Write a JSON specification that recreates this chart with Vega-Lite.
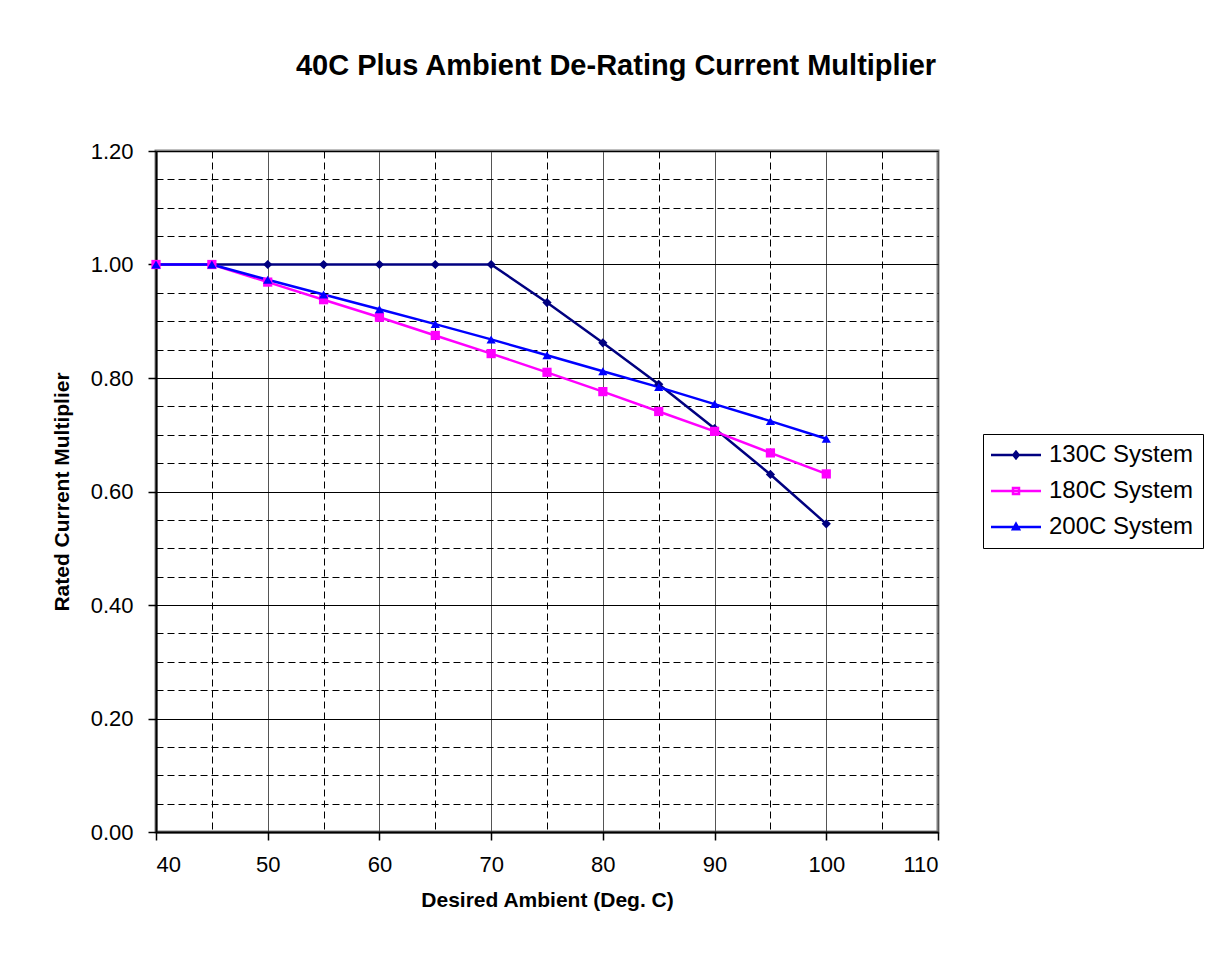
{
  "$schema": "https://vega.github.io/schema/vega-lite/v6.json",
  "width": 782,
  "height": 681,
  "autosize": "none",
  "padding": {"left": 156, "top": 151, "right": 282, "bottom": 132},
  "background": "white",
  "title": {
    "text": "40C Plus Ambient De-Rating Current Multiplier",
    "font": "Liberation Sans",
    "fontSize": 29,
    "fontWeight": "bold",
    "color": "black",
    "anchor": "middle",
    "baseline": "alphabetic",
    "dx": 69,
    "offset": 36
  },
  "config": {
    "view": {"stroke": "#808080", "strokeWidth": 3},
    "font": "Liberation Sans",
    "legend": {
      "orient": "none",
      "legendX": 827,
      "legendY": 283,
      "strokeColor": "black",
      "fillColor": "white",
      "padding": 9,
      "labelFont": "Liberation Sans",
      "labelFontSize": 24,
      "labelColor": "black",
      "symbolSize": 400,
      "symbolStrokeWidth": 2.5,
      "symbolOffset": 12,
      "labelOffset": 21,
      "rowPadding": 12,
      "symbolOpacity": 1
    }
  },
  "data": {
    "values": [
      {"x": 40, "y": 1.0, "series": "130C System"},
      {"x": 45, "y": 1.0, "series": "130C System"},
      {"x": 50, "y": 1.0, "series": "130C System"},
      {"x": 55, "y": 1.0, "series": "130C System"},
      {"x": 60, "y": 1.0, "series": "130C System"},
      {"x": 65, "y": 1.0, "series": "130C System"},
      {"x": 70, "y": 1.0, "series": "130C System"},
      {"x": 75, "y": 0.933, "series": "130C System"},
      {"x": 80, "y": 0.862, "series": "130C System"},
      {"x": 85, "y": 0.789, "series": "130C System"},
      {"x": 90, "y": 0.711, "series": "130C System"},
      {"x": 95, "y": 0.630, "series": "130C System"},
      {"x": 100, "y": 0.543, "series": "130C System"},
      {"x": 40, "y": 1.0, "series": "180C System"},
      {"x": 45, "y": 1.0, "series": "180C System"},
      {"x": 50, "y": 0.969, "series": "180C System"},
      {"x": 55, "y": 0.938, "series": "180C System"},
      {"x": 60, "y": 0.907, "series": "180C System"},
      {"x": 65, "y": 0.875, "series": "180C System"},
      {"x": 70, "y": 0.843, "series": "180C System"},
      {"x": 75, "y": 0.810, "series": "180C System"},
      {"x": 80, "y": 0.776, "series": "180C System"},
      {"x": 85, "y": 0.741, "series": "180C System"},
      {"x": 90, "y": 0.706, "series": "180C System"},
      {"x": 95, "y": 0.668, "series": "180C System"},
      {"x": 100, "y": 0.631, "series": "180C System"},
      {"x": 40, "y": 1.0, "series": "200C System"},
      {"x": 45, "y": 1.0, "series": "200C System"},
      {"x": 50, "y": 0.973, "series": "200C System"},
      {"x": 55, "y": 0.947, "series": "200C System"},
      {"x": 60, "y": 0.921, "series": "200C System"},
      {"x": 65, "y": 0.895, "series": "200C System"},
      {"x": 70, "y": 0.868, "series": "200C System"},
      {"x": 75, "y": 0.840, "series": "200C System"},
      {"x": 80, "y": 0.812, "series": "200C System"},
      {"x": 85, "y": 0.784, "series": "200C System"},
      {"x": 90, "y": 0.754, "series": "200C System"},
      {"x": 95, "y": 0.724, "series": "200C System"},
      {"x": 100, "y": 0.693, "series": "200C System"}
    ]
  },
  "layer": [
    {
      "mark": {"type": "line", "strokeWidth": 2.5},
      "encoding": {
        "x": {
          "field": "x", "type": "quantitative",
          "scale": {"domain": [40, 110], "nice": false, "zero": false},
          "axis": {
            "orient": "bottom",
            "values": [40, 50, 60, 70, 80, 90, 100, 110],
            "title": "Desired Ambient (Deg. C)",
            "titleFont": "Liberation Sans", "titleFontSize": 21, "titleFontWeight": "bold", "titleColor": "black",
            "titlePadding": 14,
            "labelFont": "Liberation Sans", "labelFontSize": 22, "labelColor": "black", "labelPadding": 14,
            "tickSize": 8, "tickColor": "black", "tickWidth": 1.5,
            "domainColor": "black", "domainWidth": 2,
            "grid": true, "gridColor": "#555555", "gridWidth": 1, "gridOpacity": 1
          }
        },
        "y": {
          "field": "y", "type": "quantitative",
          "scale": {"domain": [0, 1.2], "nice": false},
          "axis": {
            "orient": "left",
            "values": [0, 0.2, 0.4, 0.6, 0.8, 1.0, 1.2],
            "format": ".2f",
            "title": "Rated Current Multiplier",
            "titleFont": "Liberation Sans", "titleFontSize": 21, "titleFontWeight": "bold", "titleColor": "black",
            "titlePadding": 18,
            "labelFont": "Liberation Sans", "labelFontSize": 22, "labelColor": "black", "labelPadding": 15,
            "tickSize": 8, "tickColor": "black", "tickWidth": 1.5,
            "domainColor": "black", "domainWidth": 2,
            "grid": true, "gridColor": "black", "gridWidth": 1, "gridOpacity": 1
          }
        },
        "color": {
          "field": "series", "type": "nominal",
          "scale": {"domain": ["130C System", "180C System", "200C System"], "range": ["#000080", "#FF00FF", "#0000FF"]},
          "legend": null
        }
      }
    },
    {
      "mark": {"type": "point", "filled": true, "opacity": 1, "size": 85, "strokeWidth": 0},
      "encoding": {
        "x": {
          "field": "x", "type": "quantitative",
          "axis": {
            "orient": "bottom",
            "values": [45, 55, 65, 75, 85, 95, 105],
            "labels": false, "ticks": false, "domain": false, "title": null,
            "grid": true, "gridColor": "black", "gridDash": [7, 4], "gridWidth": 1, "gridOpacity": 1
          }
        },
        "y": {
          "field": "y", "type": "quantitative",
          "axis": {
            "orient": "left",
            "values": [0.05, 0.1, 0.15, 0.25, 0.3, 0.35, 0.45, 0.5, 0.55, 0.65, 0.7, 0.75, 0.85, 0.9, 0.95, 1.05, 1.1, 1.15],
            "labels": false, "ticks": false, "domain": false, "title": null,
            "grid": true, "gridColor": "black", "gridDash": [7, 4], "gridWidth": 1, "gridOpacity": 1
          }
        },
        "color": {
          "field": "series", "type": "nominal",
          "scale": {"domain": ["130C System", "180C System", "200C System"], "range": ["#000080", "#FF00FF", "#0000FF"]},
          "legend": null
        },
        "shape": {
          "field": "series", "type": "nominal",
          "scale": {"domain": ["130C System", "180C System", "200C System"], "range": ["diamond", "square", "triangle-up"]},
          "legend": null
        }
      }
    },
    {
      "transform": [{"filter": "datum.x < 0"}],
      "mark": {"type": "point", "filled": false, "opacity": 1, "strokeWidth": 2.5},
      "encoding": {
        "x": {"field": "x", "type": "quantitative", "axis": null},
        "y": {"field": "y", "type": "quantitative", "axis": null},
        "color": {
          "field": "series", "type": "nominal",
          "scale": {"domain": ["130C System", "180C System", "200C System"], "range": ["#000080", "#FF00FF", "#0000FF"]},
          "legend": {"title": null}
        },
        "shape": {
          "field": "series", "type": "nominal",
          "legend": {"title": null},
          "scale": {
            "domain": ["130C System", "180C System", "200C System"],
            "range": [
              "M-2.5,0L2.5,0M0,-0.32L0.26,0L0,0.32L-0.26,0Z",
              "M-2.5,0L2.5,0M-0.3,-0.3L0.3,-0.3L0.3,0.3L-0.3,0.3Z",
              "M-2.5,0L2.5,0M0,-0.32L0.3,0.22L-0.3,0.22Z"
            ]
          }
        }
      }
    }
  ],
  "resolve": {
    "axis": {"x": "independent", "y": "independent"},
    "scale": {"shape": "independent", "color": "independent"}
  }
}
